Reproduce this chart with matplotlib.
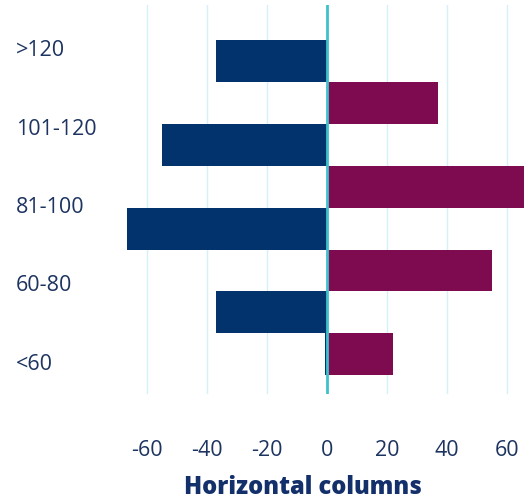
import matplotlib.pyplot as plt
import numpy as np

# chart data
groups = ['>120', '101-120', '81-100', '60-80', '<60']
navy_vals = [-37, -55, -67, -37, -0.7]
purple_vals = [37, 66, 55, 22]
xticks = [-60, -40, -20, 0, 20, 40, 60]

navy_col = '#03336d'
purple_col = '#7e0b50'
text_col = '#1d3461'

plt.rcParams['font.family'] = ['Open Sans', 'DejaVu Sans']

fig = plt.figure(figsize=(5.24, 5.01), dpi=100)
W, H = 524, 501
ax = fig.add_axes([127 / W, 1 - 394 / H, (524 - 127) / W, (394 - 5) / H])

# bars sit in 8 slots going down, navy then purple
navy_y = [0, 2, 4, 6, 7]
purple_y = [1, 3, 5, 7]
ax.barh(navy_y, navy_vals, height=1.0, color=navy_col, zorder=2)
ax.barh(purple_y, purple_vals, height=1.0, color=purple_col, zorder=2)

ax.set_xlim(-66.7, 65.7)
ax.set_ylim(7.95, -1.34)

for x in xticks:
    if x == 0:
        ax.axvline(x, color='#3fc1cc', lw=2, zorder=3)
    else:
        ax.axvline(x, color='#d6f1f5', lw=1, zorder=1)

ax.set_xticks(xticks)
ax.set_xticklabels([str(v) for v in xticks], fontsize=15.5, color=text_col)
ax.tick_params(axis='x', length=0, pad=33)

ylab_pos = np.linspace(-0.31, 7.18, len(groups))
ax.set_yticks(ylab_pos)
ax.set_yticklabels(groups, fontsize=15.5, color=text_col, ha='left')
ax.tick_params(axis='y', length=0, pad=80)

for s in ax.spines.values():
    s.set_visible(False)

fig.text(303 / W, 1 - 487 / H, 'Horizontal columns', ha='center', va='center',
         fontsize=17, fontweight='heavy', color='#13306a')

fig.savefig('out.png', dpi=100)
